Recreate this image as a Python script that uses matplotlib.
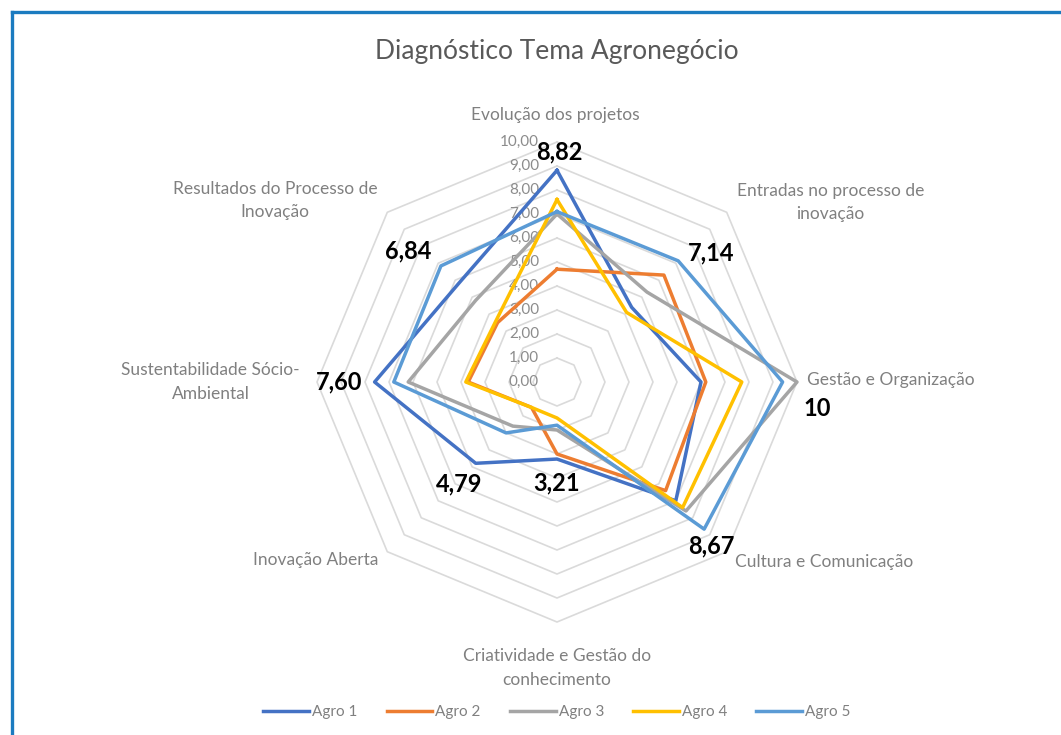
#!/usr/bin/env python3

"""Radar chart: Diagnóstico Tema Agronegócio."""

import numpy as np
import matplotlib
matplotlib.use("Agg")
import matplotlib.pyplot as plt
from matplotlib.lines import Line2D

CATEGORIAS = ["Evolução dos projetos",
              "Entradas no processo de\ninovação",
              "Gestão e Organização",
              "Cultura e Comunicação",
              "Criatividade e Gestão do\nconhecimento",
              "Inovação Aberta",
              "Sustentabilidade Sócio-\nAmbiental",
              "Resultados do Processo de\nInovação"]

SERIES = ["Agro 1", "Agro 2", "Agro 3", "Agro 4", "Agro 5"]
AGRO_1 = [8.82, 4.40, 6.00, 7.00, 3.21, 4.79, 7.60, 5.80]
AGRO_2 = [4.70, 6.30, 6.20, 6.40, 3.00, 1.50, 3.70, 3.50]
AGRO_3 = [7.00, 5.30, 10.0, 7.60, 2.00, 2.60, 6.20, 4.80]
AGRO_4 = [7.60, 4.10, 7.70, 7.40, 1.50, 1.50, 3.80, 3.60]
AGRO_5 = [7.10, 7.14, 9.40, 8.67, 1.80, 3.00, 6.80, 6.84]
ESCALA = [0, 1, 2, 3, 4, 5, 6, 7, 8, 9, 10]

CORES = ["#4472c4", "#ed7d31", "#a5a5a5", "#ffc000", "#5b9bd5"]
W, H = 1061, 735


def fmt_virgula(v, casas=2):
  """Format number the Portuguese way (decimal comma)."""
  if casas == 0:
    return f"{v:g}".replace('.', ',')
  return f"{v:.{casas}f}".replace('.', ',')


def main():
  """Draw the chart."""
  plt.rcParams['font.family'] = ['Lato', 'DejaVu Sans']
  fig = plt.figure(figsize=(W / 100, H / 100), dpi=100)
  fig.patch.set_facecolor('white')

  # radar area: centre ~ (557, 382) px, 10 units = 240 px
  cx, cy, rad = 557, 382, 240
  ax = fig.add_axes([(cx - rad) / W, (H - cy - rad) / H, 2 * rad / W, 2 * rad / H],
                    projection='polar')
  ax.set_theta_zero_location('N')
  ax.set_theta_direction(-1)
  ax.set_ylim(0, 10)
  ax.grid(False)
  ax.spines['polar'].set_visible(False)
  ax.set_xticks([])
  ax.set_yticks([])
  ax.patch.set_alpha(0)

  n = len(CATEGORIAS)
  theta = np.arange(n) * 2 * np.pi / n
  theta_c = np.append(theta, theta[0])

  # octagonal gridlines
  for v in ESCALA[1:]:
    ax.plot(theta_c, [v] * (n + 1), color='#dadada', lw=1.2, zorder=1, clip_on=False)

  # scale labels along the top axis
  for v in ESCALA:
    ax.annotate(fmt_virgula(v), xy=(0, v), xytext=(-18, 0), textcoords='offset pixels',
                ha='right', va='center', fontsize=11, color='#8c8c8c', zorder=2)

  dados = [AGRO_1, AGRO_2, AGRO_3, AGRO_4, AGRO_5]
  for serie, valores, cor in zip(SERIES, dados, CORES):
    ax.plot(theta_c, valores + valores[:1], color=cor, lw=2.5, zorder=3,
            clip_on=False, label=serie)

  # category labels around the chart (offsets in pixels from the outer vertex)
  alinh = ['center', 'left', 'left', 'left', 'center', 'right', 'right', 'right']
  pos_cat = [(-2, 27), (10, 10), (10, 2), (8, -10), (0, -46), (-9, -8), (-17, 0), (-10, 12)]
  for t, nome, ha, off in zip(theta, CATEGORIAS, alinh, pos_cat):
    ax.annotate(nome, xy=(t, 10), xytext=off, textcoords='offset pixels',
                ha=ha, va='center', multialignment='center',
                fontsize=12.5, color='#808080', linespacing=1.55)

  # data labels: highest value per category
  desloc = [(2, 18), (33, 8), (20, -26), (7, -17), (0, -24), (-17, -21), (-35, 0), (-33, 15)]
  matriz = np.array(dados)
  for i, t in enumerate(theta):
    v = matriz[:, i].max()
    casas = 0 if float(v).is_integer() else 2
    ax.annotate(fmt_virgula(v, casas), xy=(t, v), xytext=desloc[i],
                textcoords='offset pixels', ha='center', va='center',
                fontsize=17, fontweight='bold', color='black', zorder=4)

  fig.text(cx / W, 1 - 52 / H, "Diagnóstico Tema Agronegócio", ha='center', va='center',
           fontsize=19, color='#595959')

  handles = [Line2D([], [], color=c, lw=2.5) for c in CORES]
  fig.legend(handles, SERIES, loc='center', bbox_to_anchor=(cx / W, 1 - 712 / H),
             ncol=5, frameon=False, fontsize=11, labelcolor='#808080',
             handlelength=3.0, handletextpad=0.2, columnspacing=1.9)

  # blue frame on the left and top edges
  x0, y0 = 12 / W, 1 - 12 / H
  fig.add_artist(Line2D([x0, x0], [0, y0], transform=fig.transFigure, color='#1b7bc0', lw=2.4))
  fig.add_artist(Line2D([x0, 1], [y0, y0], transform=fig.transFigure, color='#1b7bc0', lw=2.4))

  fig.savefig('out.png', dpi=100)


if __name__ == "__main__":
  main()
